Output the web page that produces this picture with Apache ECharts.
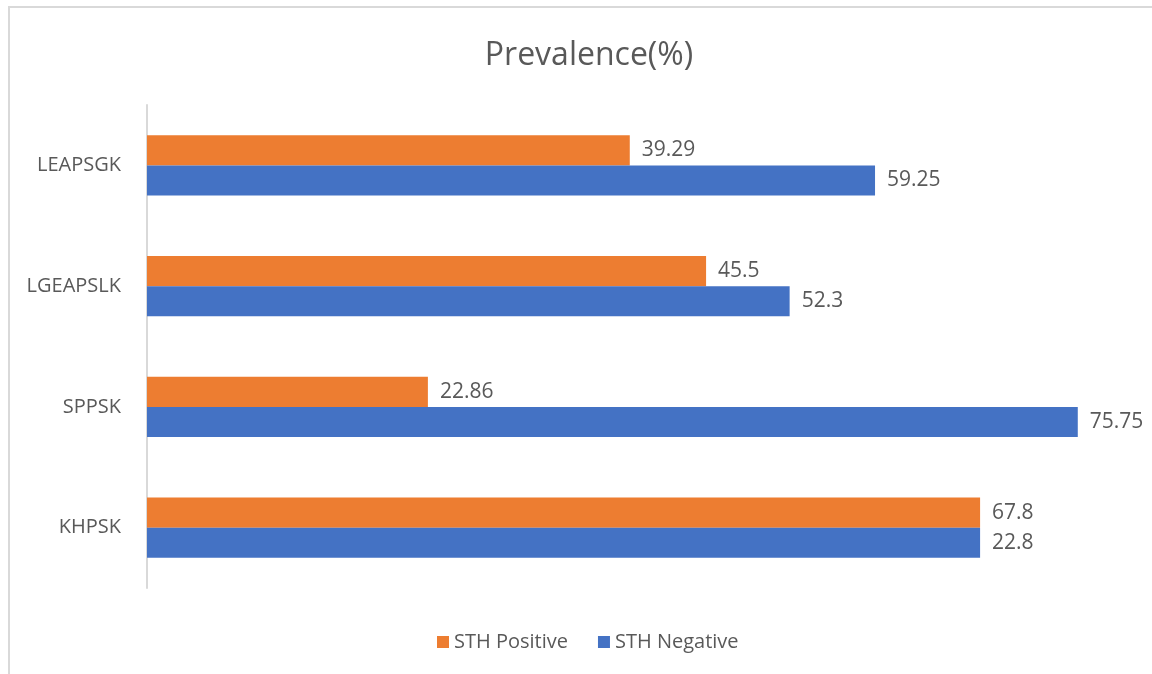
<!DOCTYPE html>
<html>
<head>
<meta charset="utf-8">
<script src="https://cdn.jsdelivr.net/npm/echarts@6/dist/echarts.min.js"></script>
<style>
  html, body { margin: 0; padding: 0; background: #fff; }
  #frame {
    position: absolute; left: 8px; top: 6px; width: 1200px; height: 700px;
    border-left: 2px solid #d9d9d9; border-top: 2px solid #d9d9d9;
  }
  #chart { position: absolute; left: 0; top: 0; width: 1152px; height: 674px; }
</style>
</head>
<body>
<div id="frame"></div>
<div id="chart"></div>
<script>
const categories = ['LEAPSGK', 'LGEAPSLK', 'SPPSK', 'KHPSK']
const positiveValues = [39.29, 45.5, 22.86, 67.8]
const negativeValues = [59.25, 52.3, 75.75, 67.8]
// label text as printed on the chart (KHPSK bar is drawn longer than its label)
const negativeLabels = ['59.25', '52.3', '75.75', '22.8']

const textColor = '#595959'
const fontFamily = '"Open Sans", "Noto Sans", sans-serif'

const chart = echarts.init(document.getElementById('chart'))

const labelStyle = {
  show: true,
  position: 'right',
  distance: 12,
  color: textColor,
  fontSize: 21,
  fontFamily: fontFamily
}

chart.setOption({
  animation: false,
  title: {
    text: 'Prevalence(%)',
    left: 584,
    textAlign: 'center',
    top: 35,
    textStyle: {
      color: textColor,
      fontSize: 32,
      fontWeight: 'normal',
      fontFamily: fontFamily
    }
  },
  legend: {
    left: 432,
    top: 627,
    itemWidth: 12,
    itemHeight: 12,
    itemGap: 30,
    icon: 'rect',
    textStyle: { color: textColor, fontSize: 20, fontFamily: fontFamily }
  },
  grid: { left: 147, right: 22, top: 105, bottom: 86, containLabel: false },
  xAxis: {
    type: 'value',
    min: 0,
    max: 80,
    show: false
  },
  yAxis: {
    type: 'category',
    data: categories,
    inverse: true,
    axisLine: { lineStyle: { color: '#d9d9d9', width: 2 } },
    axisTick: { show: false },
    axisLabel: {
      color: textColor,
      fontSize: 20,
      margin: 26,
      fontFamily: fontFamily
    }
  },
  series: [
    {
      name: 'STH Positive',
      type: 'bar',
      data: positiveValues,
      barGap: '0%',
      barCategoryGap: '50%',
      itemStyle: { color: '#ed7d31' },
      label: labelStyle
    },
    {
      name: 'STH Negative',
      type: 'bar',
      data: negativeValues,
      itemStyle: { color: '#4472c4' },
      label: Object.assign({}, labelStyle, {
        formatter: p => negativeLabels[p.dataIndex]
      })
    }
  ]
})
</script>
</body>
</html>
